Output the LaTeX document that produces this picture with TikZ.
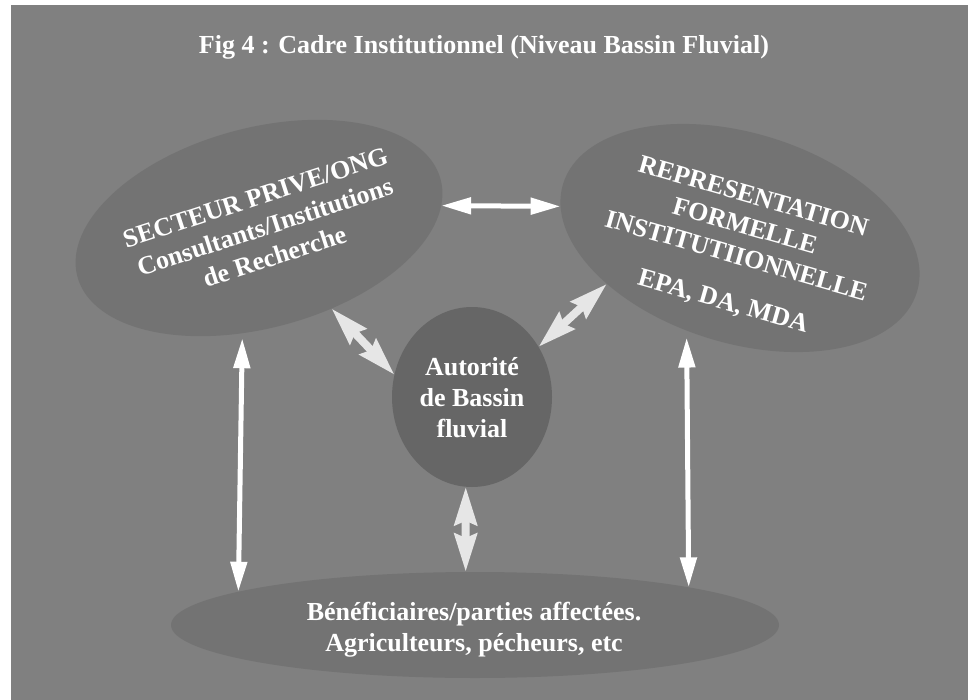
\documentclass[tikz,border=0pt]{standalone}
\usepackage{fontspec}
\setmainfont{Liberation Serif}
\usetikzlibrary{arrows.meta,positioning,shapes.geometric}
\definecolor{bggray}{HTML}{808080}
\definecolor{blobgray}{HTML}{737373}
\definecolor{coregray}{HTML}{666666}
\definecolor{linkgray}{HTML}{E6E6E6}

\begin{document}
\begin{tikzpicture}[x=0.5pt,y=-0.5pt,
  blob/.style={ellipse, fill=blobgray, inner sep=0pt, outer sep=0pt},
  blobtext/.style={font=\fontsize{13}{15.5}\selectfont\bfseries, text=white, align=center},
  wlink/.style={white, line width=2.5pt,
    {Triangle[length=15pt,width=8pt]}-{Triangle[length=15pt,width=8pt]}},
  glink/.style={linkgray, line width=4pt,
    {Stealth[length=19pt,width=11pt,inset=2pt]}-{Stealth[length=19pt,width=11pt,inset=2pt]}}
]
\useasboundingbox (0,0) rectangle (968,700);
\fill[white] (0,0) rectangle (968,700);
\fill[bggray] (11,5) rectangle (968,700);

\node[font=\fontsize{13}{15.5}\selectfont\bfseries, text=white] (title) at (484,47)
  {Fig 4 : Cadre Institutionnel (Niveau Bassin Fluvial)};

% the groups round the authority
\node[blob, minimum width=188pt, minimum height=100pt, rotate=15] (priv) at (259,228) {};
\node[blob, minimum width=185pt, minimum height=105pt, rotate=-17] (repr) at (740,238) {};
\node[blob, minimum width=304pt, minimum height=53pt] (benef) at (475,625) {};
\node[ellipse, fill=coregray, minimum width=80pt, minimum height=90pt,
  inner sep=0pt, outer sep=0pt] (auth) at (472,397) {};

\node[blobtext, rotate=18] (privtxt) at (265,227)
  {SECTEUR PRIVE/ONG\\Consultants/Institutions\\de Recherche};
\node[blobtext, rotate=-16] (reprtxt) at (738,250)
  {REPRESENTATION\\FORMELLE\\INSTITUTIIONNELLE\\[8pt]EPA, DA, MDA};
\node[blobtext] (authtxt) at (472,398) {Autorité\\de Bassin\\fluvial};
\node[blobtext] (beneftxt) at (474,630)
  {Bénéficiaires/parties affectées.\\Agriculteurs, pécheurs, etc};

% links
\draw[wlink] (priv.-8) -- (repr.187);
\draw[wlink, shorten <=2.5pt] (priv.246) -- (benef.172);
\draw[wlink, shorten <=3.5pt] (repr.257) -- (benef.10);
\draw[glink] (priv.297) -- (auth.164);
\draw[glink] (repr.216) -- (auth.37);
\draw[glink] (auth.266) -- (benef.100);

\end{tikzpicture}
\end{document}
